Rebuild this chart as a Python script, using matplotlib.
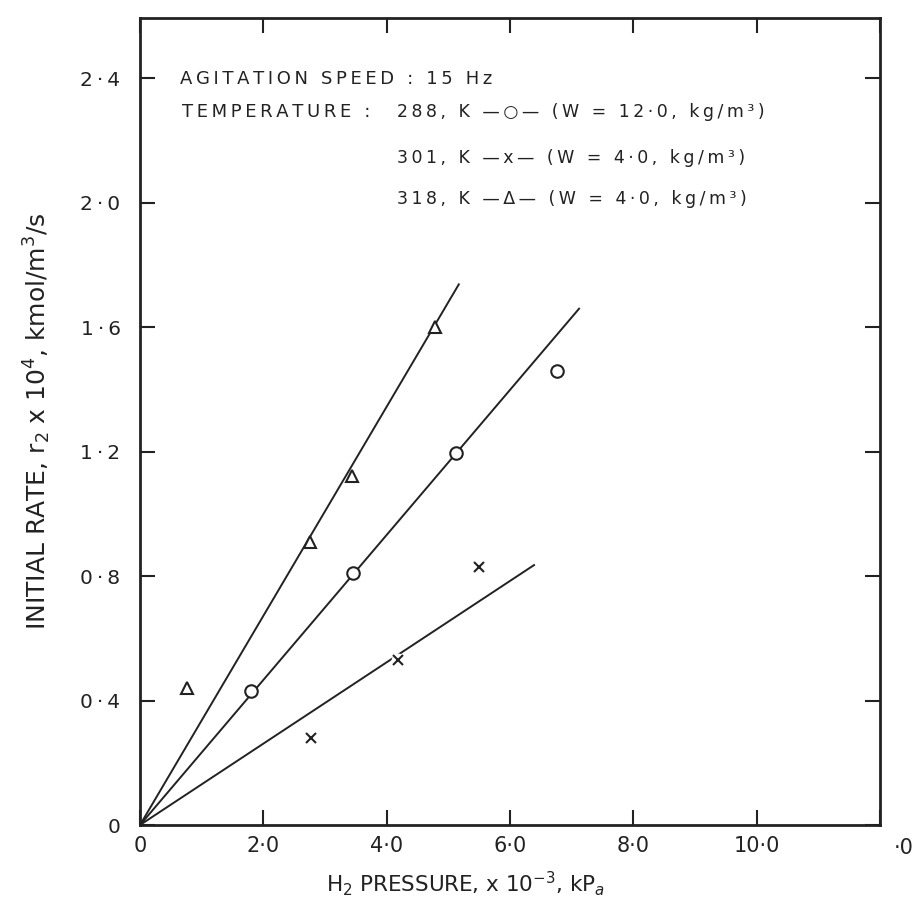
import numpy as np
import matplotlib.pyplot as plt

# H2 pressure (x 10^-3 kPa) vs initial rate (x 10^4 kmol/m3/s)
p_288 = [1.80, 3.45, 5.13, 6.76]
r_288 = [0.43, 0.81, 1.195, 1.46]
p_301 = [2.78, 4.18, 5.50]
r_301 = [0.28, 0.53, 0.83]
p_318 = [0.76, 2.75, 3.44, 4.79]
r_318 = [0.44, 0.91, 1.12, 1.60]

# straight lines through the origin drawn by the authors
slopes = [0.233, 0.1307, 0.336]
line_end = [7.12, 6.39, 5.17]

x_ticks = [0, 2, 4, 6, 8, 10, 12]
x_labels = ['0', '2·0', '4·0', '6·0', '8·0', '10·0', '']
y_ticks = [0, 0.4, 0.8, 1.2, 1.6, 2.0, 2.4]
y_labels = ['0', '0·4', '0·8', '1·2', '1·6', '2·0', '2·4']

legend_rows = ['288, K —○— (W = 12·0, kg/m³)',
               '301, K —x— (W = 4·0, kg/m³)',
               '318, K —Δ— (W = 4·0, kg/m³)']


def spaced(s):
    # wide lettering like the stencil on the original drawing
    return '\u2009'.join(s)


fig = plt.figure(figsize=(9.18, 9.08), dpi=100)
ax = fig.add_axes([0.1525, 0.0914, 0.8061, 0.8888])

for s, xe in zip(slopes, line_end):
    xx = np.array([0, xe])
    ax.plot(xx, s * xx, color='#222222', lw=1.4, zorder=2)

ax.plot(p_288, r_288, ls='none', marker='o', ms=9, mfc='white', mec='#222222',
        mew=1.5, zorder=3)
ax.plot(p_318, r_318, ls='none', marker='^', ms=9, mfc='white', mec='#222222',
        mew=1.5, zorder=3)
ax.plot(p_301, r_301, ls='none', marker='o', ms=10, mfc='white', mec='none',
        zorder=3)
ax.plot(p_301, r_301, ls='none', marker='x', ms=7, mec='#222222', mew=1.5,
        zorder=4)

ax.set_xlim(0, 12)
ax.set_ylim(0, 2.593)
ax.set_xticks(x_ticks)
ax.set_xticklabels(x_labels, fontsize=15)
ax.set_yticks(y_ticks)
ax.set_yticklabels([spaced(t) for t in y_labels], fontsize=14.5)
ax.tick_params(direction='in', length=11, width=1.5, top=True, right=True,
               colors='#222222')
ax.tick_params(axis='x', pad=8)
ax.tick_params(axis='y', pad=14)
for sp in ax.spines.values():
    sp.set_linewidth(2)
    sp.set_color('#222222')

# the "12·0" label is cut in the scan, only "·0" is left
ax.annotate('·0', xy=(12, 0), xytext=(10, -9), textcoords='offset points',
            ha='left', va='top', fontsize=15, color='#222222',
            annotation_clip=False)

ax.set_xlabel('H$_2$ PRESSURE, x 10$^{-3}$, kP$_a$', fontsize=15.5,
              color='#222222')
ax.xaxis.set_label_coords(0.44, -0.055)
ax.set_ylabel('INITIAL RATE, r$_2$ x 10$^4$, kmol/m$^3$/s', fontsize=18,
              color='#222222', labelpad=20)

ax.text(0.643, 2.381, spaced('AGITATION SPEED : 15 Hz'), fontsize=13,
        va='baseline', color='#222222')
ax.text(0.675, 2.275, spaced('TEMPERATURE :'), fontsize=13, va='baseline',
        color='#222222')
for row, yb in zip(legend_rows, [2.275, 2.127, 1.995]):
    ax.text(4.16, yb, spaced(row), fontsize=12.5, va='baseline',
            color='#222222')

fig.savefig('out.png', dpi=100)
